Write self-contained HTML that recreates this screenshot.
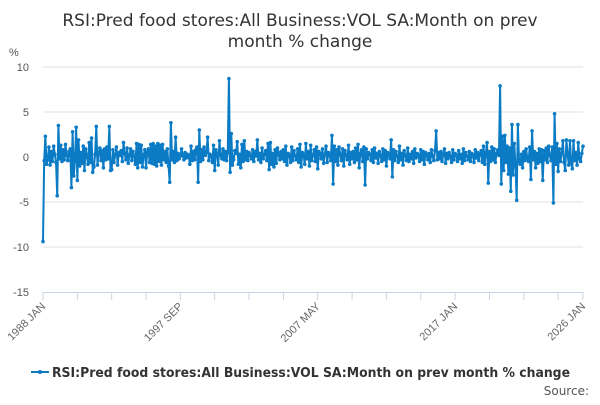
<!DOCTYPE html>
<html><head><meta charset="utf-8"><style>
body{margin:0;background:#fff;width:600px;height:400px;overflow:hidden;font-family:"Liberation Sans","DejaVu Sans",sans-serif}
</style></head><body>
<svg width="600" height="400" xmlns="http://www.w3.org/2000/svg">
<g id="title" font-family="'DejaVu Sans','Liberation Sans',sans-serif" font-size="17" fill="#333" text-anchor="middle">
<text x="300" y="26">RSI:Pred food stores:All Business:VOL SA:Month on prev</text>
<text x="300" y="47">month % change</text>
</g>
<text x="9" y="56" font-size="11" fill="#555">%</text>
<g id="grid"></g>
<g id="yticks"></g>
<g id="xaxis"></g>
<g id="series"></g>
<g>
<line x1="31" y1="372" x2="49" y2="372" stroke="#0a7bc4" stroke-width="2"/>
<circle cx="40" cy="372" r="2" fill="#0a7bc4"/>
<text x="52" y="377" font-size="13" font-weight="bold" fill="#333" textLength="518" lengthAdjust="spacingAndGlyphs" font-family="'DejaVu Sans','Liberation Sans',sans-serif">RSI:Pred food stores:All Business:VOL SA:Month on prev month % change</text>
</g>
<text x="589" y="395" font-size="12" fill="#555" text-anchor="end" font-family="'DejaVu Sans','Liberation Sans',sans-serif">Source:</text>
</svg>
<script>
const yTicks=[10,5,0,-5,-10,-15];
const xLabels=["1988 JAN","1997 SEP","2007 MAY","2017 JAN","2026 JAN"];
const xLabelIdx=[0,116,232,348,456];
const values=[
-9.4,-0.4,2.3,-0.8,-0.3,1.1,-0.9,0.6,-0.5,1.2,0.3,-0.6,
-4.3,3.5,-0.2,1.3,-0.5,0.8,-0.3,1.4,0.2,-0.4,0.6,0.9,
-3.4,2.8,-2.1,-0.4,3.3,-2.6,1.9,-1.0,0.5,-0.7,1.2,-1.5,
0.9,0.2,-0.8,1.6,-0.6,2.1,-1.7,-1.1,0.3,3.4,-0.9,0.4,
1.0,-0.4,0.7,-1.2,0.9,-0.3,1.1,-0.2,3.4,-1.5,-1.4,0.8,
-0.6,0.3,1.1,-0.9,0.5,0.2,0.7,-0.5,1.6,0.4,-0.3,1.0,
-0.7,0.2,0.9,-0.4,0.6,0.1,-0.8,1.5,-1.2,1.4,-0.6,1.3,
-1.1,0.2,0.8,-1.2,0.5,0.9,-0.6,1.4,-0.7,1.5,-0.8,1.2,
-1.0,1.5,-0.5,1.3,-0.9,1.4,-0.3,0.6,-0.6,0.9,-1.0,-2.8,
3.8,-0.3,0.6,-0.6,2.2,-0.4,0.4,-0.2,0.1,0.9,0.2,-0.3,
0.5,-0.1,0.3,0.2,-0.8,1.2,-0.4,0.6,-0.3,0.8,1.1,-2.8,
3.0,-0.5,0.8,-0.3,1.1,0.2,0.5,2.2,-0.4,0.3,0.1,-0.6,
1.3,-1.5,0.8,0.4,-0.9,1.8,0.2,-0.2,0.9,-0.3,0.6,-0.4,
0.5,8.7,-1.7,2.6,-0.9,-0.3,0.7,0.4,1.7,-0.8,0.3,-1.2,
1.4,-0.5,1.8,-0.3,0.6,-0.4,0.5,0.2,-0.2,0.8,-0.5,0.6,
0.1,1.9,-0.3,0.4,-0.6,1.0,-0.2,0.3,0.7,-0.4,1.5,-1.4,
1.6,-0.8,0.4,-1.1,0.8,-0.7,1.0,0.3,-0.3,0.6,-0.2,0.8,
-0.5,1.2,-0.9,0.4,0.2,-0.6,1.1,-0.4,0.7,0.1,-0.3,0.9,
-0.6,1.4,-1.1,0.5,0.3,-0.8,1.5,-0.2,0.6,-1.0,1.3,-0.4,
0.2,0.8,-0.5,1.1,-1.3,0.6,0.4,-0.2,0.9,-0.7,0.3,1.2,
-0.6,0.5,0.2,-0.4,2.4,-3.0,1.2,-0.5,0.8,-0.9,1.1,0.3,
-0.4,0.9,-1.0,0.7,0.2,-0.3,1.3,-0.8,0.5,-0.2,0.6,-0.6,
1.0,-0.3,1.4,-1.2,0.4,0.8,-0.5,1.1,-3.1,0.9,-0.2,0.5,
0.3,-0.4,0.8,-0.6,1.0,-0.1,0.4,-0.7,0.6,0.2,-0.5,0.9,
-0.3,0.7,-1.0,0.5,0.3,-0.2,1.9,-2.2,0.8,-0.4,0.6,0.1,
-0.6,1.2,-0.3,0.4,-0.9,0.7,0.2,-0.4,1.0,-0.5,0.3,-0.2,
0.6,-0.7,0.9,-0.1,0.4,0.2,-0.5,0.8,-0.3,0.6,-0.8,0.5,
0.2,-0.3,0.4,-0.6,0.8,0.1,-0.4,0.7,2.9,-0.3,0.5,-0.2,
0.6,-0.5,0.3,0.9,-0.7,0.4,-0.2,0.5,0.1,-0.6,0.8,-0.3,
0.4,0.2,-0.5,0.7,-0.2,0.3,-0.7,0.9,-0.4,0.5,0.1,-0.3,
0.6,-0.5,0.4,0.2,-0.6,0.8,-0.1,0.5,-0.4,0.3,0.7,-0.6,
1.2,-0.8,0.5,1.6,-2.9,0.6,-0.5,1.1,-0.3,0.9,-0.6,0.4,
0.8,0.2,7.9,-3.0,2.3,-1.5,2.4,-0.6,1.2,-1.9,1.0,-3.8,
3.6,-2.0,1.5,-1.0,-4.8,3.6,-0.5,-0.8,0.3,-1.2,0.6,-0.4,
0.9,-0.2,-0.5,1.1,-2.5,2.9,-0.3,0.6,-1.2,0.4,-0.7,0.9,
-0.5,0.8,-2.6,0.7,-0.3,1.0,-0.6,1.2,0.2,-0.4,1.1,-5.1,
4.8,-0.8,1.5,-1.6,0.9,-0.5,0.4,1.8,-0.6,-1.5,1.9,0.3,
-0.9,1.8,-0.6,-1.3,1.8,-0.4,0.5,-0.9,1.6,-0.2,-0.5,0.4,
1.2
];
const NS="http://www.w3.org/2000/svg";
const X0=43,X1=583,Y0=157,PY=9;
const nMax=456;
function xs(i){return X0+i*(X1-X0)/nMax;}
function ys(v){return Y0-v*PY;}
function mk(tag,attrs,parent){const e=document.createElementNS(NS,tag);for(const k in attrs)e.setAttribute(k,attrs[k]);parent.appendChild(e);return e;}
const grid=document.getElementById('grid'),yt=document.getElementById('yticks'),xa=document.getElementById('xaxis'),se=document.getElementById('series');
yTicks.forEach(t=>{
  if(t!==-15){const l=mk('line',{x1:X0,x2:X1,y1:ys(t),y2:ys(t),stroke:'#e0e0e0','stroke-width':1},grid);
  
  }
  const tx=mk('text',{x:29,y:ys(t)+4,'font-size':11,fill:'#555','text-anchor':'end'},yt);
  
  
  tx.textContent=t;
});
const ax=mk('line',{x1:X0,x2:X1,y1:292.5,y2:292.5,stroke:'#c8d4e6','stroke-width':1},xa);


for(let i=0;i<=nMax;i+=29){const tk=mk('line',{x1:xs(i),x2:xs(i),y1:292,y2:300,stroke:'#c8d4e6'},xa);

}
const tkl=mk('line',{x1:xs(nMax),x2:xs(nMax),y1:292,y2:300,stroke:'#c8d4e6'},xa);


xLabels.forEach((lb,k)=>{
  const x=xs(xLabelIdx[k]);
  const t=mk('text',{x:x+3,y:307,'font-size':11,fill:'#666','text-anchor':'end',transform:`rotate(-45 ${x+3} 307)`},xa);
  
  
  t.textContent=lb;
});
const pts=values.map((v,i)=>xs(i).toFixed(2)+','+ys(v).toFixed(2)).join(' ');
const pl=mk('polyline',{points:pts,fill:'none',stroke:'#0a7bc4','stroke-width':2,'stroke-linejoin':'round'},se);


values.forEach((v,i)=>{const c=mk('circle',{cx:xs(i),cy:ys(v),r:1.8,fill:'#0a7bc4'},se);

});
</script>
</body></html>
